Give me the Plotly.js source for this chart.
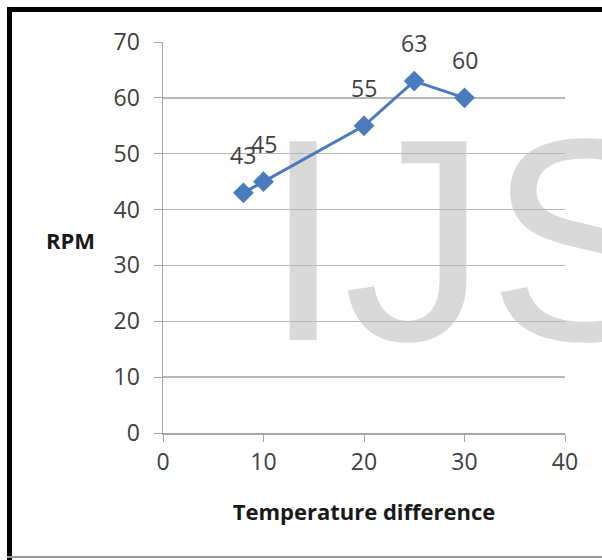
<!DOCTYPE html>
<html>
<head>
<meta charset="utf-8">
<script src="https://cdn.plot.ly/plotly-3.0.1.min.js"></script>
<style>
  html, body { margin:0; padding:0; background:#fff; }
  #wrap { position:relative; width:602px; height:560px; overflow:hidden; background:#fff; }
  #wm { position:absolute; left:263px; top:95px; font-family:'Liberation Sans', Arial, sans-serif;
        font-size:289px; line-height:1; color:#d9d9d9; white-space:nowrap; }
  #chart { position:absolute; left:0; top:0; width:602px; height:560px; }
  .bl { position:absolute; background:#000; }
</style>
</head>
<body>
<div id="wrap">
  <div id="wm">IJS</div>
  <div id="chart"></div>
  <div class="bl" style="left:7px;top:7px;width:5px;height:553px;"></div>
  <div class="bl" style="left:7px;top:7px;width:595px;height:5px;"></div>
  <div class="bl" style="left:7px;top:556px;width:595px;height:2px;background:#999;"></div>
</div>
<script>
const tempDiff = [8, 10, 20, 25, 30];
const rpm = [43, 45, 55, 63, 60];
const xTicks = [0, 10, 20, 30, 40];
const yTicks = [0, 10, 20, 30, 40, 50, 60, 70];
const xTitle = 'Temperature difference';
const yTitle = 'RPM';

const lineColor = '#4a7bbd';
const textColor = '#404040';
const fontFam = '"Open Sans", sans-serif';

const trace = {
  x: tempDiff, y: rpm, type: 'scatter', mode: 'lines+markers',
  line: { color: lineColor, width: 3 },
  marker: { symbol: 'diamond', size: 16, color: lineColor },
  hoverinfo: 'skip'
};

const labelAnns = tempDiff.map((xv, i) => ({
  x: xv, y: rpm[i], xref: 'x', yref: 'y', text: String(rpm[i]),
  showarrow: false, yshift: 38, font: { family: fontFam, size: 23, color: textColor }
}));

const layout = {
  width: 602, height: 560,
  paper_bgcolor: 'rgba(0,0,0,0)', plot_bgcolor: 'rgba(0,0,0,0)',
  margin: { l: 163, r: 37, t: 42, b: 127 },
  showlegend: false,
  xaxis: {
    range: [0, 40], tickvals: xTicks, ticktext: xTicks.map(String),
    showgrid: false, zeroline: false, showline: true, linecolor: '#a6a6a6', linewidth: 1.5,
    ticks: 'outside', ticklen: 7, tickcolor: '#a6a6a6', ticklabelstandoff: 1,
    tickfont: { family: fontFam, size: 23, color: textColor },
    title: { text: xTitle, standoff: 28, font: { family: fontFam, size: 22, color: '#1a1a1a', weight: 'bold' } }
  },
  yaxis: {
    range: [0, 70], tickvals: yTicks, ticktext: yTicks.map(String),
    showgrid: true, gridcolor: '#b8b8b8', gridwidth: 1.5, zeroline: false,
    showline: true, linecolor: '#a6a6a6', linewidth: 1.5,
    ticks: 'outside', ticklen: 8, tickcolor: '#a6a6a6', ticklabelstandoff: 9,
    tickfont: { family: fontFam, size: 23, color: textColor }
  },
  annotations: labelAnns.concat([{
    xref: 'paper', yref: 'paper', x: -0.231, y: 0.494, xanchor: 'center', yanchor: 'middle',
    text: '<b>' + yTitle + '</b>',
    showarrow: false, font: { family: fontFam, size: 22, color: '#1a1a1a' }
  }])
};

Plotly.newPlot('chart', [trace], layout, { staticPlot: true, displayModeBar: false });
</script>
</body>
</html>
